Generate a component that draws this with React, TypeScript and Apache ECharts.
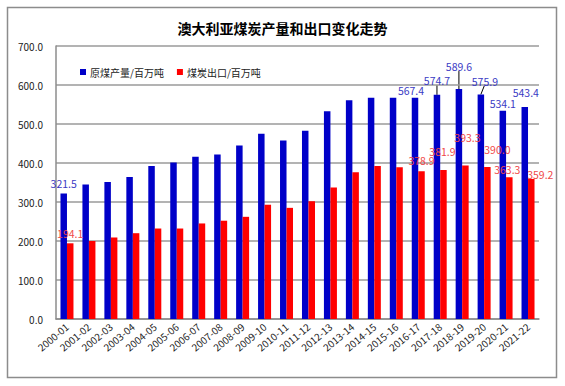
import React, { useEffect, useRef } from "react";
import * as echarts from "echarts";

const categories = [
  "2000-01", "2001-02", "2002-03", "2003-04", "2004-05", "2005-06", "2006-07", "2007-08",
  "2008-09", "2009-10", "2010-11", "2011-12", "2012-13", "2013-14", "2014-15", "2015-16",
  "2016-17", "2017-18", "2018-19", "2019-20", "2020-21", "2021-22",
];
const production = [
  321.5, 345, 351, 364, 392, 401, 416, 422, 445, 475, 458, 483, 533, 561, 567, 567,
  567.4, 574.7, 589.6, 575.9, 534.1, 543.4,
];
const exports = [
  194.1, 200, 209, 220, 232, 232, 245, 252, 262, 293, 285, 302, 337, 376, 392, 389,
  378.9, 381.9, 393.3, 390.0, 363.3, 359.2,
];
const yTicks = [0, 100, 200, 300, 400, 500, 600, 700];

// label nudges [dx, dy] for labelled bars (index -> offset)
const prodLabelShift: Record<number, [number, number]> = {
  0: [0, 0], 16: [-4, 3], 17: [0, -4], 18: [0, -12], 19: [4, -3], 20: [0, 3], 21: [1, -4],
};
const prodLeader = [17, 18, 19];
const expLabelShift: Record<number, [number, number]> = {
  0: [0, 0], 16: [0, 0], 17: [-1, -8], 18: [2, -18], 19: [10, -7], 20: [-2, 2], 21: [9, 6],
};

const BAR_W = 6.5;

export default function App() {
  const ref = useRef<HTMLDivElement>(null);
  useEffect(() => {
    const chart = echarts.init(ref.current!, null, { renderer: "svg" });
    const font = "'Noto Sans CJK SC', 'DejaVu Sans', sans-serif";
    const border = {
      type: "rect",
      shape: { x: 7.5, y: 7.5, width: 549, height: 370 },
      style: { fill: "none", stroke: "#8c8c8c", lineWidth: 1.5 },
      silent: true,
    };
    chart.setOption({
      animation: false,
      backgroundColor: "#ffffff",
      textStyle: { fontFamily: font },
      title: {
        text: "澳大利亚煤炭产量和出口变化走势",
        left: "center",
        top: 16,
        textStyle: { fontSize: 14, fontWeight: "bold", color: "#000", fontFamily: "'Noto Sans CJK SC', serif" },
      },
      graphic: [border],
      legend: {
        left: 75,
        top: 62,
        itemWidth: 6,
        itemHeight: 6,
        itemGap: 13,
        icon: "rect",
        textStyle: { fontSize: 10, color: "#222", padding: [0, 0, 0, -1] },
        data: ["原煤产量/百万吨", "煤炭出口/百万吨"],
      },
      grid: { left: 56, top: 46, right: 26, bottom: 67, containLabel: false },
      xAxis: {
        type: "category",
        data: categories,
        axisLine: { lineStyle: { color: "#8c8c8c", width: 1.5 } },
        axisTick: { show: false },
        axisLabel: { interval: 0, rotate: 40, fontSize: 10, color: "#222", margin: 6 },
      },
      yAxis: {
        type: "value",
        min: 0,
        max: 700,
        interval: 100,
        axisLine: { show: true, lineStyle: { color: "#8c8c8c", width: 1.5 } },
        axisTick: { show: false },
        axisLabel: {
          fontSize: 10,
          color: "#222",
          margin: 13,
          formatter: (v: number) => (yTicks.includes(v) ? v.toFixed(1) : ""),
        },
        splitLine: { lineStyle: { color: "#9a9a9a", width: 1.5 } },
      },
      series: [
        {
          name: "原煤产量/百万吨",
          type: "bar",
          barWidth: BAR_W,
          barGap: "0%",
          itemStyle: { color: "#0000c8" },
          label: { show: false },
          data: production.map((v, i) => {
            const s = prodLabelShift[i];
            if (!s) return v;
            return {
              value: v,
              label: {
                show: true,
                position: "top",
                distance: 5,
                fontSize: 10.5,
                color: "#3a3ac4",
                formatter: (p: any) => Number(p.value).toFixed(1),
              },
            };
          }),
          labelLayout: (p: any) => {
            const s = prodLabelShift[p.dataIndex];
            if (!s) return {};
            return { dx: s[0], dy: s[1] };
          },
        },
        {
          name: "煤炭出口/百万吨",
          type: "bar",
          barWidth: BAR_W,
          barGap: "0%",
          itemStyle: { color: "#ff0000" },
          label: { show: false },
          data: exports.map((v, i) => {
            const s = expLabelShift[i];
            if (!s) return v;
            return {
              value: v,
              label: {
                show: true,
                position: "top",
                distance: 5,
                fontSize: 10.5,
                color: "#f04848",
                formatter: (p: any) => Number(p.value).toFixed(1),
              },
            };
          }),
          labelLayout: (p: any) => {
            const s = expLabelShift[p.dataIndex];
            if (!s) return {};
            return { dx: s[0], dy: s[1] };
          },
        },
      ],
    });

    // leader lines from moved labels to bar tops, positioned through the axes' scales
    const leaders = prodLeader.map((i) => {
      const top = chart.convertToPixel({ seriesIndex: 0 }, [i, production[i]]) as number[];
      const bx = top[0] - BAR_W / 2;
      const s = prodLabelShift[i];
      const labelBottom = top[1] - 5 + s[1] - 1;
      return {
        type: "line",
        silent: true,
        shape: { x1: bx + s[0] * 0.9, y1: labelBottom, x2: bx, y2: top[1] },
        style: { stroke: "#000", lineWidth: 1 },
      };
    });
    chart.setOption({ graphic: [border, ...leaders] });

    return () => chart.dispose();
  }, []);
  return (
    <div
      ref={ref}
      style={{ position: "fixed", left: 0, top: 0, width: 565, height: 386 }}
    />
  );
}
